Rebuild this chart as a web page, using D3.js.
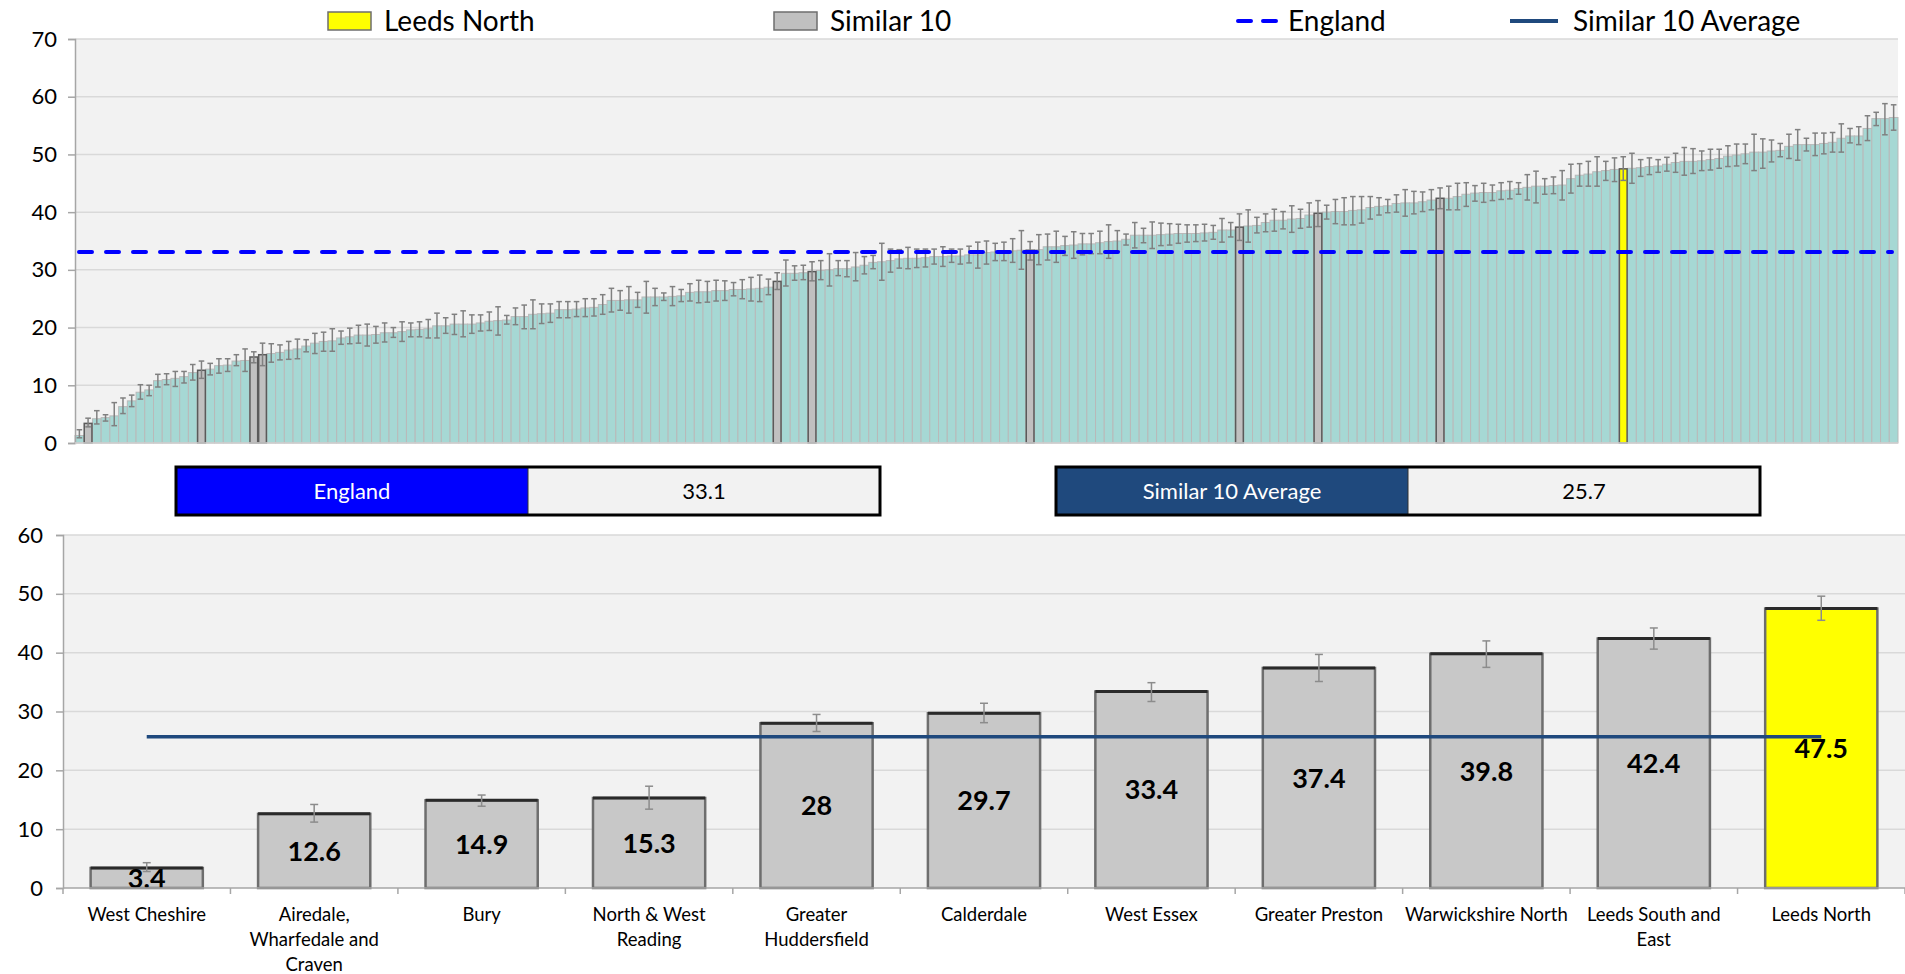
<!DOCTYPE html>
<html>
<head>
<meta charset="utf-8">
<script src="https://cdn.jsdelivr.net/npm/d3@7"></script>
<style>
  html, body { margin: 0; padding: 0; background: #ffffff; }
  svg { display: block; font-family: Lato, "Open Sans", sans-serif; }
</style>
</head>
<body>
<svg id="chart" width="1905" height="974"></svg>
<script>
// ---------------- DATA ----------------
// All areas, sorted ascending (value, lower CI, upper CI)
const allValues = [
  1.3, 3.4, 4.2, 4.4, 4.7, 6.3, 7.3, 8.8, 9.2, 10.8,
  11.0, 11.2, 11.5, 12.2, 12.6, 12.8, 13.4, 13.5, 14.2, 14.3,
  14.9, 15.3, 15.5, 15.7, 16.1, 16.3, 16.8, 17.3, 17.6, 17.7,
  18.2, 18.4, 18.7, 18.7, 18.8, 19.1, 19.1, 19.3, 19.6, 19.7,
  19.8, 20.3, 20.3, 20.6, 20.6, 20.6, 20.8, 21.1, 21.2, 21.3,
  21.9, 21.9, 22.3, 22.4, 22.5, 23.1, 23.1, 23.2, 23.4, 23.5,
  24.0, 24.7, 24.7, 24.8, 24.8, 25.3, 25.3, 25.3, 25.4, 25.5,
  26.1, 26.2, 26.2, 26.4, 26.4, 26.6, 26.6, 26.7, 26.8, 27.0,
  28.0, 29.4, 29.4, 29.5, 29.7, 29.9, 30.0, 30.2, 30.2, 30.5,
  30.8, 31.3, 31.4, 31.6, 31.9, 32.0, 32.0, 32.1, 32.3, 32.3,
  32.4, 32.4, 32.6, 32.6, 33.0, 33.1, 33.2, 33.3, 33.4, 33.4,
  33.5, 34.0, 34.0, 34.2, 34.3, 34.5, 34.5, 34.7, 34.9, 35.0,
  35.3, 36.0, 36.0, 36.0, 36.1, 36.2, 36.3, 36.3, 36.3, 36.4,
  36.5, 36.9, 36.9, 37.4, 37.6, 37.7, 38.2, 38.6, 38.6, 38.8,
  38.9, 39.5, 39.8, 40.0, 40.1, 40.1, 40.3, 40.4, 40.8, 41.0,
  41.1, 41.5, 41.6, 41.6, 41.8, 42.1, 42.4, 42.4, 42.7, 43.1,
  43.3, 43.4, 43.4, 43.7, 43.8, 44.1, 44.3, 44.5, 44.5, 44.6,
  44.7, 45.8, 46.4, 46.6, 47.0, 47.2, 47.4, 47.5, 47.6, 47.7,
  47.9, 48.0, 48.3, 48.6, 48.8, 48.8, 48.9, 49.1, 49.3, 49.7,
  49.9, 50.1, 50.4, 50.4, 50.6, 50.7, 51.4, 51.7, 51.7, 51.7,
  51.9, 52.1, 52.8, 53.2, 53.2, 54.5, 56.2, 56.2, 56.4
];
const allLower = [
  0.9, 2.8, 3.3, 3.8, 3.0, 5.1, 6.3, 7.6, 8.2, 9.7,
  10.1, 9.8, 10.4, 10.9, 11.2, 11.8, 12.1, 12.4, 13.4, 12.4,
  13.9, 13.4, 14.0, 14.4, 14.5, 14.6, 15.8, 15.5, 15.9, 15.9,
  17.1, 17.2, 17.3, 16.8, 17.3, 17.5, 18.3, 17.6, 18.4, 18.4,
  18.2, 18.2, 19.0, 18.8, 18.4, 19.0, 19.4, 19.5, 18.7, 20.6,
  20.5, 19.8, 19.8, 20.7, 20.9, 21.7, 21.7, 21.9, 21.9, 22.0,
  22.3, 22.7, 23.0, 22.5, 23.5, 22.5, 23.8, 24.7, 23.8, 24.5,
  24.6, 24.3, 24.4, 24.6, 24.7, 25.5, 25.0, 24.6, 24.5, 25.7,
  26.6, 27.2, 28.2, 28.3, 28.1, 28.3, 27.2, 29.0, 28.8, 28.1,
  29.3, 30.2, 28.2, 29.6, 30.3, 30.2, 30.4, 30.5, 31.0, 30.6,
  31.3, 31.0, 31.2, 30.3, 31.0, 31.6, 31.6, 31.3, 30.1, 31.7,
  30.9, 31.7, 31.3, 32.5, 32.0, 32.6, 32.8, 32.8, 32.0, 33.2,
  34.3, 33.8, 34.7, 33.7, 34.2, 34.3, 34.6, 34.8, 34.9, 35.0,
  35.3, 34.8, 35.7, 35.1, 34.8, 36.4, 36.6, 36.7, 37.1, 36.5,
  37.2, 37.4, 37.5, 38.8, 38.0, 37.8, 37.8, 38.1, 38.8, 39.5,
  39.9, 40.0, 39.3, 39.7, 40.1, 40.4, 40.6, 40.4, 40.4, 41.0,
  41.9, 41.7, 42.0, 42.2, 42.3, 43.1, 42.1, 41.6, 43.1, 43.2,
  42.1, 43.3, 44.5, 44.5, 44.5, 45.5, 45.3, 45.5, 45.0, 46.2,
  46.5, 46.9, 47.1, 46.9, 46.4, 46.7, 47.2, 47.3, 47.6, 47.9,
  48.0, 48.4, 47.2, 47.6, 48.7, 49.6, 49.3, 49.0, 50.6, 49.8,
  50.1, 50.4, 50.4, 52.0, 51.7, 52.4, 55.0, 53.4, 54.2
];
const allUpper = [
  2.3, 4.3, 5.6, 4.9, 7.0, 7.8, 8.3, 10.1, 10.0, 11.9,
  12.0, 12.4, 12.4, 13.6, 14.2, 13.8, 14.6, 14.6, 15.3, 16.3,
  15.8, 17.3, 17.2, 17.0, 17.6, 18.0, 17.9, 19.0, 19.2, 19.8,
  19.4, 19.9, 20.4, 20.6, 20.2, 20.8, 20.0, 21.0, 20.8, 21.0,
  21.4, 22.5, 21.7, 22.3, 22.9, 22.2, 22.2, 22.7, 23.6, 22.1,
  23.4, 23.9, 24.8, 24.1, 24.1, 24.5, 24.5, 24.5, 25.0, 25.0,
  25.7, 26.8, 26.4, 27.1, 26.1, 28.0, 26.8, 26.0, 27.1, 26.6,
  27.6, 28.2, 28.0, 28.2, 28.1, 27.8, 28.3, 28.7, 29.1, 28.4,
  29.5, 31.7, 30.7, 30.8, 31.4, 31.6, 32.8, 31.6, 31.6, 33.0,
  32.3, 32.5, 34.6, 33.6, 33.5, 33.9, 33.6, 33.6, 33.6, 34.0,
  33.6, 33.6, 34.1, 34.8, 35.0, 34.6, 34.8, 35.4, 36.8, 34.9,
  36.1, 36.2, 36.7, 35.8, 36.6, 36.3, 36.3, 36.7, 37.8, 36.8,
  36.2, 38.2, 37.2, 38.3, 38.1, 38.0, 37.9, 37.8, 37.8, 37.9,
  37.7, 38.9, 38.2, 39.7, 40.4, 39.1, 39.7, 40.5, 40.1, 41.1,
  40.5, 41.6, 42.0, 41.2, 42.2, 42.5, 42.7, 42.7, 42.7, 42.5,
  42.2, 43.0, 43.9, 43.6, 43.5, 43.9, 44.2, 44.5, 45.0, 45.1,
  44.6, 45.0, 44.7, 45.1, 45.3, 45.1, 46.5, 47.1, 45.8, 46.1,
  47.2, 48.3, 48.4, 48.8, 49.6, 48.8, 49.4, 49.6, 50.2, 49.1,
  49.4, 49.1, 49.5, 50.2, 51.2, 51.0, 50.6, 50.9, 50.9, 51.5,
  51.8, 51.8, 53.5, 52.7, 52.5, 51.9, 53.5, 54.3, 52.8, 53.7,
  53.7, 53.8, 55.3, 54.5, 54.8, 56.7, 57.3, 58.8, 58.6
];
// Positions (in the sorted list) of the "Similar 10" areas and of Leeds North
const similarIndex = [1, 14, 20, 21, 80, 84, 109, 133, 142, 156];
const highlightIndex = 177;

const englandValue = 33.1;
const similarAverage = 25.7;

// Similar 10 + Leeds North comparison
const simNames = ["West Cheshire", "Airedale, Wharfedale and Craven", "Bury", "North & West Reading",
  "Greater Huddersfield", "Calderdale", "West Essex", "Greater Preston", "Warwickshire North",
  "Leeds South and East", "Leeds North"];
const simValues = [3.4, 12.6, 14.9, 15.3, 28, 29.7, 33.4, 37.4, 39.8, 42.4, 47.5];
const simLower  = [2.8, 11.2, 13.9, 13.4, 26.6, 28.1, 31.7, 35.1, 37.5, 40.6, 45.5];
const simUpper  = [4.3, 14.2, 15.8, 17.3, 29.5, 31.4, 34.9, 39.7, 42.0, 44.2, 49.6];

const topTicks = [0, 10, 20, 30, 40, 50, 60, 70];
const bottomTicks = [0, 10, 20, 30, 40, 50, 60];
const legendLabels = ["Leeds North", "Similar 10", "England", "Similar 10 Average"];

// ---------------- DRAWING ----------------
const svg = d3.select("#chart");
const C = {
  teal: "#a6d8d4", tealStroke: "#b9b9b9", grey: "#c0c0c0", greyBig: "#c8c8c8",
  yellow: "#ffff00", outline: "#5a5a5a", err: "#808080", bg: "#f2f2f2",
  grid: "#d9d9d9", axis: "#a6a6a6", england: "#0000ff", avg: "#1f497d"
};

// ---- Top chart ----
const T = { left: 75, right: 1898, top: 39, bottom: 443 };
const xT = d3.scaleBand().domain(d3.range(allValues.length)).range([T.left, T.right]).padding(0);
const yT = d3.scaleLinear().domain([0, 70]).range([T.bottom, T.top]);

svg.append("rect").attr("x", T.left).attr("y", T.top).attr("width", T.right - T.left)
  .attr("height", T.bottom - T.top).attr("fill", C.bg);

svg.append("g").selectAll("line").data(topTicks.filter(d => d > 0)).join("line")
  .attr("x1", T.left).attr("x2", T.right).attr("y1", d => yT(d)).attr("y2", d => yT(d))
  .attr("stroke", C.grid).attr("stroke-width", 1.5);

const special = new Set(similarIndex.concat([highlightIndex]));
const allIdx = d3.range(allValues.length);

svg.append("g").selectAll("rect").data(allIdx.filter(i => !special.has(i))).join("rect")
  .attr("x", i => xT(i)).attr("width", xT.bandwidth())
  .attr("y", i => yT(allValues[i])).attr("height", i => yT(0) - yT(allValues[i]))
  .attr("fill", C.teal).attr("stroke", C.tealStroke).attr("stroke-width", 1);

svg.append("g").selectAll("rect").data(allIdx.filter(i => special.has(i))).join("rect")
  .attr("x", i => xT(i) + 0.5).attr("width", xT.bandwidth() - 1)
  .attr("y", i => yT(allValues[i])).attr("height", i => yT(0) - yT(allValues[i]))
  .attr("fill", i => i === highlightIndex ? C.yellow : C.grey)
  .attr("stroke", C.outline).attr("stroke-width", 1.5);

// error bars
const eT = svg.append("g").attr("stroke", C.err).attr("stroke-width", 1.5);
allIdx.forEach(i => {
  const cx = xT(i) + xT.bandwidth() / 2;
  const y1 = yT(allUpper[i]), y2 = yT(allLower[i]);
  eT.append("line").attr("x1", cx).attr("x2", cx).attr("y1", y1).attr("y2", y2);
  eT.append("line").attr("x1", cx - 2.8).attr("x2", cx + 2.8).attr("y1", y1).attr("y2", y1);
  eT.append("line").attr("x1", cx - 2.8).attr("x2", cx + 2.8).attr("y1", y2).attr("y2", y2);
});

// England line
svg.append("line").attr("x1", T.left + 4).attr("x2", T.right - 6)
  .attr("y1", yT(englandValue)).attr("y2", yT(englandValue))
  .attr("stroke", C.england).attr("stroke-width", 4).attr("stroke-dasharray", "13 14")
  .attr("stroke-linecap", "round");

// axes
const axT = svg.append("g").attr("transform", `translate(${T.left},0)`)
  .call(d3.axisLeft(yT).tickValues(topTicks).tickSize(7).tickPadding(11));
axT.select(".domain").attr("stroke", C.axis).attr("stroke-width", 1.5);
axT.selectAll(".tick line").attr("stroke", C.axis).attr("stroke-width", 1.5);
axT.selectAll(".tick text").attr("font-size", 22).attr("fill", "#000").attr("font-family", "Lato");
svg.append("line").attr("x1", T.left).attr("x2", T.right).attr("y1", T.bottom).attr("y2", T.bottom)
  .attr("stroke", "#d0d0d0").attr("stroke-width", 1.5);

// ---- Legend ----
const lg = svg.append("g").attr("font-size", 28).attr("fill", "#000");
const legendY = 21;
lg.append("rect").attr("x", 328).attr("y", 12).attr("width", 43).attr("height", 18)
  .attr("fill", C.yellow).attr("stroke", "#6e6e6e").attr("stroke-width", 1.5);
lg.append("text").attr("x", 384).attr("y", legendY).attr("dy", "0.35em").text(legendLabels[0]);
lg.append("rect").attr("x", 774).attr("y", 12).attr("width", 43).attr("height", 18)
  .attr("fill", C.grey).attr("stroke", "#6e6e6e").attr("stroke-width", 1.5);
lg.append("text").attr("x", 830).attr("y", legendY).attr("dy", "0.35em").text(legendLabels[1]);
lg.append("line").attr("x1", 1238).attr("x2", 1276).attr("y1", legendY).attr("y2", legendY)
  .attr("stroke", C.england).attr("stroke-width", 4).attr("stroke-dasharray", "13 12")
  .attr("stroke-linecap", "round");
lg.append("text").attr("x", 1288).attr("y", legendY).attr("dy", "0.35em").text(legendLabels[2]);
lg.append("line").attr("x1", 1510).attr("x2", 1558).attr("y1", legendY).attr("y2", legendY)
  .attr("stroke", C.avg).attr("stroke-width", 4);
lg.append("text").attr("x", 1573).attr("y", legendY).attr("dy", "0.35em").text(legendLabels[3]);

// ---- Value boxes ----
function valueBox(x, w, color, label, value) {
  const g = svg.append("g");
  const y = 467, h = 48;
  g.append("rect").attr("x", x).attr("y", y).attr("width", w / 2).attr("height", h).attr("fill", color);
  g.append("rect").attr("x", x + w / 2).attr("y", y).attr("width", w / 2).attr("height", h).attr("fill", "#f2f2f2");
  g.append("line").attr("x1", x + w / 2).attr("x2", x + w / 2).attr("y1", y).attr("y2", y + h)
    .attr("stroke", "#333").attr("stroke-width", 1);
  g.append("rect").attr("x", x).attr("y", y).attr("width", w).attr("height", h)
    .attr("fill", "none").attr("stroke", "#000").attr("stroke-width", 3);
  g.append("text").attr("x", x + w / 4).attr("y", y + h / 2).attr("dy", "0.35em")
    .attr("text-anchor", "middle").attr("fill", "#fff").attr("font-size", 22).text(label);
  g.append("text").attr("x", x + 3 * w / 4).attr("y", y + h / 2).attr("dy", "0.35em")
    .attr("text-anchor", "middle").attr("fill", "#000").attr("font-size", 22).text(value);
}
valueBox(176, 704, C.england, legendLabels[2], englandValue);
valueBox(1056, 704, C.avg, legendLabels[3], similarAverage);

// ---- Bottom chart ----
const B = { left: 63, right: 1905, top: 535, bottom: 888 };
const xB = d3.scaleBand().domain(simNames).range([B.left, B.right]).paddingInner(0.33).paddingOuter(0.165);
const yB = d3.scaleLinear().domain([0, 60]).range([B.bottom, B.top]);

svg.append("rect").attr("x", B.left).attr("y", B.top).attr("width", B.right - B.left)
  .attr("height", B.bottom - B.top).attr("fill", C.bg);
svg.append("g").selectAll("line").data(bottomTicks.filter(d => d > 0)).join("line")
  .attr("x1", B.left).attr("x2", B.right).attr("y1", d => yB(d)).attr("y2", d => yB(d))
  .attr("stroke", C.grid).attr("stroke-width", 1.5);

const bars = svg.append("g").selectAll("g").data(simNames).join("g");
bars.append("rect")
  .attr("x", d => xB(d)).attr("width", xB.bandwidth())
  .attr("y", (d, i) => yB(simValues[i])).attr("height", (d, i) => yB(0) - yB(simValues[i]))
  .attr("fill", (d, i) => i === simNames.length - 1 ? C.yellow : C.greyBig)
  .attr("stroke", "#6e6e6e").attr("stroke-width", 2.5);
bars.append("line")
  .attr("x1", d => xB(d)).attr("x2", d => xB(d) + xB.bandwidth())
  .attr("y1", (d, i) => yB(simValues[i])).attr("y2", (d, i) => yB(simValues[i]))
  .attr("stroke", "#2a2a2a").attr("stroke-width", 3);

// bottom error bars
const eB = svg.append("g").attr("stroke", "#8c8c8c").attr("stroke-width", 1.5);
simNames.forEach((d, i) => {
  const cx = xB(d) + xB.bandwidth() / 2;
  const y1 = yB(simUpper[i]), y2 = yB(simLower[i]);
  eB.append("line").attr("x1", cx).attr("x2", cx).attr("y1", y1).attr("y2", y2);
  eB.append("line").attr("x1", cx - 4).attr("x2", cx + 4).attr("y1", y1).attr("y2", y1);
  eB.append("line").attr("x1", cx - 4).attr("x2", cx + 4).attr("y1", y2).attr("y2", y2);
});

// similar 10 average line
const firstC = xB(simNames[0]) + xB.bandwidth() / 2;
const lastC = xB(simNames[simNames.length - 1]) + xB.bandwidth() / 2;
svg.append("line").attr("x1", firstC).attr("x2", lastC)
  .attr("y1", yB(similarAverage)).attr("y2", yB(similarAverage))
  .attr("stroke", C.avg).attr("stroke-width", 3.5);

// data labels
bars.append("text")
  .attr("x", d => xB(d) + xB.bandwidth() / 2)
  .attr("y", (d, i) => (yB(simValues[i]) + yB(0)) / 2)
  .attr("dy", "0.36em").attr("text-anchor", "middle")
  .attr("font-size", 27).attr("font-weight", "bold").attr("fill", "#000")
  .text((d, i) => simValues[i]);

// bottom axes
const axBy = svg.append("g").attr("transform", `translate(${B.left},0)`)
  .call(d3.axisLeft(yB).tickValues(bottomTicks).tickSize(7).tickPadding(13));
axBy.select(".domain").attr("stroke", C.axis).attr("stroke-width", 1.5);
axBy.selectAll(".tick line").attr("stroke", C.axis).attr("stroke-width", 1.5);
axBy.selectAll(".tick text").attr("font-size", 22).attr("fill", "#000").attr("font-family", "Lato");

svg.append("line").attr("x1", B.left).attr("x2", B.right).attr("y1", B.bottom).attr("y2", B.bottom)
  .attr("stroke", C.axis).attr("stroke-width", 1.5);
const step = xB.step();
svg.append("g").selectAll("line").data(d3.range(simNames.length + 1)).join("line")
  .attr("x1", i => B.left + i * step).attr("x2", i => B.left + i * step)
  .attr("y1", B.bottom).attr("y2", B.bottom + 6)
  .attr("stroke", C.axis).attr("stroke-width", 1.5);

// category labels with wrapping
const catG = svg.append("g").attr("font-size", 18.5).attr("fill", "#000").attr("text-anchor", "middle");
simNames.forEach(name => {
  const cx = xB(name) + xB.bandwidth() / 2;
  const t = catG.append("text").attr("x", cx).attr("y", 915).attr("dy", "0.35em");
  const words = name.split(" ");
  let line = [];
  let ts = t.append("tspan").attr("x", cx);
  words.forEach(w => {
    line.push(w);
    ts.text(line.join(" "));
    if (ts.node().getComputedTextLength() > step - 2 && line.length > 1) {
      line.pop();
      ts.text(line.join(" "));
      line = [w];
      ts = t.append("tspan").attr("x", cx).attr("dy", 25).text(w);
    }
  });
});
</script>
</body>
</html>
